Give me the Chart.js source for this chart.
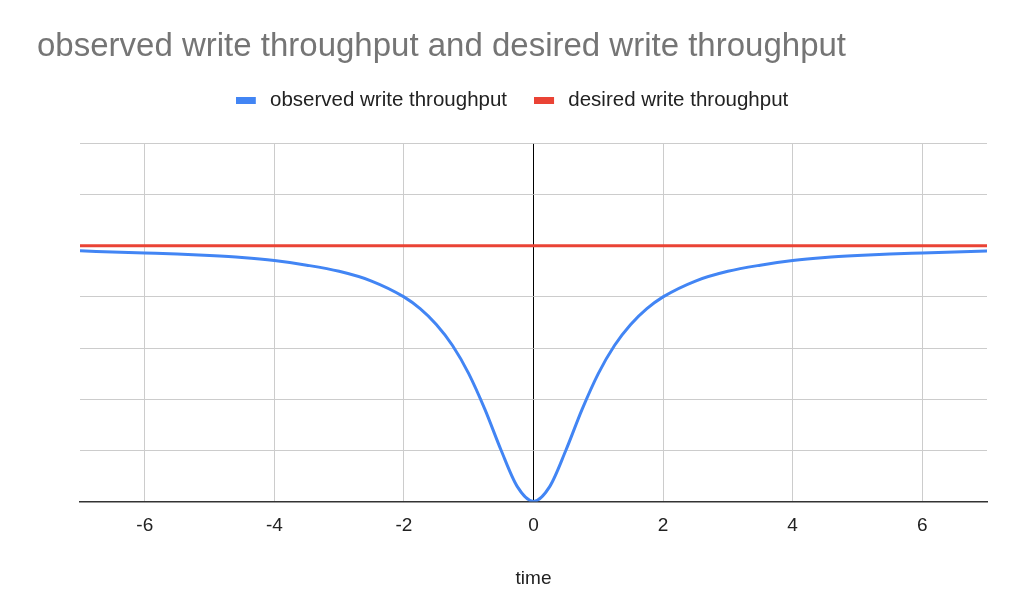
<!DOCTYPE html>
<html>
<head>
<meta charset="utf-8">
<script src="https://cdn.jsdelivr.net/npm/chart.js@4/dist/chart.umd.min.js"></script>
<style>
  html, body { margin: 0; padding: 0; background: #fff; }
  #wrap { width: 1024px; height: 613px; }
</style>
</head>
<body>
<div id="wrap"><canvas id="lineChart" width="1024" height="613"></canvas></div>
<script>
// values
const timeValues = [-7, -6.5, -6, -5.5, -5, -4.5, -4, -3.5, -3, -2.5, -2, -1.75, -1.5, -1.25, -1, -0.75, -0.5, -0.25,
  0, 0.25, 0.5, 0.75, 1, 1.25, 1.5, 1.75, 2, 2.5, 3, 3.5, 4, 4.5, 5, 5.5, 6, 6.5, 7];
const observedValues = [4.9, 4.88, 4.86, 4.84, 4.81, 4.77, 4.71, 4.62, 4.5, 4.31, 4.0, 3.77, 3.46, 3.05, 2.5, 1.8, 1.0, 0.29,
  0, 0.29, 1.0, 1.8, 2.5, 3.05, 3.46, 3.77, 4.0, 4.31, 4.5, 4.62, 4.71, 4.77, 4.81, 4.84, 4.86, 4.88, 4.9];
const desiredTime = [-7, 7];
const desiredValues = [5, 5];
const xTicks = [-6, -4, -2, 0, 2, 4, 6];

const FONT = "'Liberation Sans', Arial, sans-serif";
const BLUE = '#4285f4';
const RED = '#ea4335';

function toPoints(xs, ys) {
  return xs.map((x, i) => ({ x: x, y: ys[i] }));
}

// legend swatch: 20x7 bar with some blank space to its right
function swatch(color) {
  const c = document.createElement('canvas');
  c.width = 24;
  c.height = 7;
  const g = c.getContext('2d');
  g.fillStyle = color;
  g.fillRect(0, 0, 20, 7);
  return c;
}

// a bit of extra room under the legend
const legendGap = {
  id: 'legendGap',
  beforeInit(chart) {
    const fit = chart.legend.fit;
    chart.legend.fit = function() {
      fit.bind(chart.legend)();
      this.height += 23;
    };
  }
};

const ctx = document.getElementById('lineChart').getContext('2d');
const lineChart = new Chart(ctx, {
  type: 'scatter',
  data: {
    datasets: [{
      label: 'observed write throughput',
      data: toPoints(timeValues, observedValues),
      showLine: true,
      borderColor: BLUE,
      backgroundColor: BLUE,
      borderWidth: 3,
      pointRadius: 0,
      pointStyle: swatch(BLUE),
      cubicInterpolationMode: 'monotone'
    }, {
      label: 'desired write throughput',
      data: toPoints(desiredTime, desiredValues),
      showLine: true,
      borderColor: RED,
      backgroundColor: RED,
      borderWidth: 3,
      pointRadius: 0,
      pointStyle: swatch(RED)
    }]
  },
  plugins: [legendGap],
  options: {
    responsive: false,
    animation: false,
    devicePixelRatio: 1,
    layout: { padding: { left: 37, right: 37, top: 0, bottom: 10 } },
    plugins: {
      title: {
        display: true,
        text: 'observed write throughput and desired write throughput',
        align: 'start',
        color: '#757575',
        font: { family: FONT, size: 33, weight: 'normal', lineHeight: 1 },
        padding: { top: 30, bottom: 0 }
      },
      legend: {
        display: true,
        labels: {
          color: '#222',
          font: { family: FONT, size: 20.5 },
          usePointStyle: true,
          pointStyleWidth: 24,
          boxHeight: 7,
          padding: 27
        }
      },
      tooltip: { enabled: false }
    },
    scales: {
      x: {
        type: 'linear',
        min: -7,
        max: 7,
        afterBuildTicks: scale => { scale.ticks = xTicks.map(v => ({ value: v })); },
        grid: {
          color: c => (c.tick && c.tick.value === 0) ? '#000' : '#cccccc',
          lineWidth: 1,
          drawTicks: false
        },
        border: { display: true, color: '#333', width: 1.5 },
        ticks: { color: '#222', font: { family: FONT, size: 19 }, padding: 13 },
        title: {
          display: true,
          text: 'time',
          color: '#222',
          font: { family: FONT, size: 19 },
          padding: { top: 17, bottom: 13 }
        }
      },
      y: {
        min: 0,
        max: 7,
        ticks: { display: false, stepSize: 1 },
        grid: { color: '#cccccc', lineWidth: 1, drawTicks: false },
        border: { display: false },
        afterFit: scale => { scale.width = 43; }
      }
    }
  }
});
</script>
</body>
</html>
